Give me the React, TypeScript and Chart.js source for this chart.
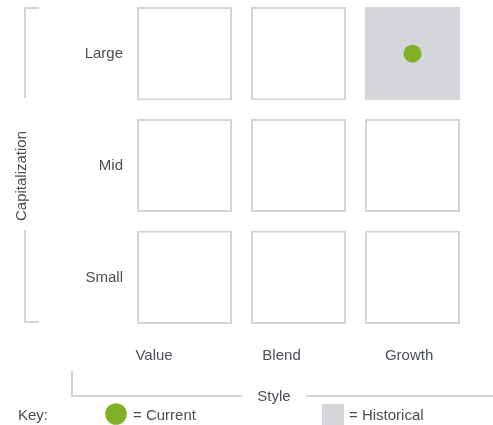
import React, { useEffect, useRef } from 'react';
import { Chart, registerables } from 'chart.js';

Chart.register(...registerables);

// ---- data ----
const styleLabels = ['Value', 'Blend', 'Growth'];
const capLabels = ['Small', 'Mid', 'Large'];
// historical exposure per capitalization row, across Value / Blend / Growth
const historicalSmall = [0, 0, 0];
const historicalMid = [0, 0, 0];
const historicalLarge = [0, 0, 1];
const currentStyle = 'Growth';
const currentCap = 'Large';
const axisTitles = { y: 'Capitalization', x: 'Style' };
const keyLabels = { key: 'Key:', current: '= Current', historical: '= Historical' };

// ---- style ----
const FONT = "'Liberation Sans', Arial, sans-serif";
const TEXT = '#4b5057';
const LINE = '#d5d5d5';
const GREY = '#d4d6d9';
const GREEN = '#80b126';
const INSET = 0.0835;

const historicalRows = [historicalSmall, historicalMid, historicalLarge];

const barDatasets = capLabels.map((cap, r) => ({
  type: 'bar' as const,
  label: cap,
  data: styleLabels.map((_, i) => ({ x: i + 0.5, y: [r + INSET, r + 1 - INSET] })),
  backgroundColor: historicalRows[r].map((h) => (h ? GREY : '#ffffff')),
  borderColor: historicalRows[r].map((h) => (h ? GREY : LINE)),
  borderWidth: 2,
  borderSkipped: false,
  barPercentage: 1 - 2 * INSET,
  categoryPercentage: 1,
  grouped: false,
  xAxisID: 'x',
  yAxisID: 'y',
  order: 2,
}));

const dotDataset = {
  type: 'scatter' as const,
  label: 'Current',
  data: [{ x: styleLabels.indexOf(currentStyle) + 0.5, y: capLabels.indexOf(currentCap) + 0.5 }],
  backgroundColor: GREEN,
  borderWidth: 0,
  pointRadius: 9,
  pointHoverRadius: 9,
  xAxisID: 'x',
  yAxisID: 'y',
  order: 1,
};

const zeroPad = (s: any) => {
  s.paddingTop = 0;
  s.paddingBottom = 0;
  s.paddingLeft = 0;
  s.paddingRight = 0;
};

const extrasPlugin = {
  id: 'styleboxExtras',
  afterDraw(chart: any) {
    const { ctx, scales } = chart;
    const y = scales.y;
    const top = y.getPixelForValue(capLabels.length - INSET);
    const bottom = y.getPixelForValue(INSET) - 2;
    ctx.save();
    ctx.strokeStyle = LINE;
    ctx.lineWidth = 2;
    // left bracket
    ctx.beginPath();
    ctx.moveTo(39, top + 1);
    ctx.lineTo(25, top + 1);
    ctx.lineTo(25, 98);
    ctx.moveTo(25, 230);
    ctx.lineTo(25, bottom);
    ctx.lineTo(39, bottom);
    ctx.stroke();
    // bottom bracket
    ctx.beginPath();
    ctx.moveTo(72, 371);
    ctx.lineTo(72, 396);
    ctx.lineTo(242, 396);
    ctx.moveTo(306, 396);
    ctx.lineTo(493, 396);
    ctx.stroke();

    ctx.fillStyle = TEXT;
    ctx.font = `15px ${FONT}`;
    ctx.textBaseline = 'middle';
    // style title
    ctx.textAlign = 'center';
    ctx.fillText(axisTitles.x, 274, 397);
    // capitalization title
    ctx.save();
    ctx.translate(22, 176);
    ctx.rotate(-Math.PI / 2);
    ctx.fillText(axisTitles.y, 0, 0);
    ctx.restore();

    // key
    ctx.textAlign = 'left';
    ctx.fillText(keyLabels.key, 18, 416);
    ctx.fillStyle = GREEN;
    ctx.beginPath();
    ctx.arc(116, 414, 10.8, 0, Math.PI * 2);
    ctx.fill();
    ctx.fillStyle = TEXT;
    ctx.fillText(keyLabels.current, 133, 416);
    ctx.fillStyle = GREY;
    ctx.fillRect(322, 404, 22, 22);
    ctx.fillStyle = TEXT;
    ctx.fillText(keyLabels.historical, 349, 416);
    ctx.restore();
  },
};

export default function App() {
  const ref = useRef<HTMLCanvasElement>(null);
  useEffect(() => {
    if (!ref.current) return;
    const chart = new Chart(ref.current, {
      type: 'bar',
      data: { datasets: [...barDatasets, dotDataset] as any },
      options: {
        responsive: false,
        animation: false,
        events: [],
        layout: { autoPadding: false, padding: { left: 0, right: 23.5, top: 0, bottom: 0 } },
        plugins: { legend: { display: false }, tooltip: { enabled: false } },
        font: { family: FONT },
        scales: {
          x: {
            type: 'linear',
            min: 0,
            max: styleLabels.length,
            offset: false,
            display: false,
            grid: { offset: false },
            afterBuildTicks: (s: any) => {
              s.ticks = [0, 1, 2, 3].map((v) => ({ value: v }));
            },
            afterFit: zeroPad,
          },
          xl: {
            type: 'linear',
            position: 'bottom',
            min: 0.292,
            max: 2.974,
            offset: false,
            grid: { display: false, drawTicks: false, offset: false },
            border: { display: false },
            afterBuildTicks: (s: any) => {
              s.ticks = styleLabels.map((_, i) => ({ value: i + 0.5 }));
            },
            afterFit: (s: any) => {
              s.height = 91.7;
              zeroPad(s);
            },
            ticks: {
              autoSkip: false,
              maxRotation: 0,
              padding: 14,
              color: TEXT,
              font: { family: FONT, size: 15 },
              callback: (v: any) => styleLabels[Math.floor(Number(v))] ?? '',
            },
          },
          y: {
            type: 'linear',
            min: 0,
            max: 2.98,
            grid: { display: false, drawTicks: false },
            border: { display: false },
            afterBuildTicks: (s: any) => {
              s.ticks = capLabels.map((_, i) => ({ value: i + 0.5 }));
            },
            afterFit: (s: any) => {
              s.width = 127.5;
              zeroPad(s);
            },
            ticks: {
              autoSkip: false,
              padding: 4.5,
              color: TEXT,
              font: { family: FONT, size: 15, lineHeight: 0.01 },
              callback: (v: any) => capLabels[Math.floor(Number(v))] ?? '',
            },
          },
        },
      } as any,
      plugins: [extrasPlugin],
    });
    return () => chart.destroy();
  }, []);
  return (
    <div style={{ position: 'absolute', left: 0, top: 0, width: 493, height: 425 }}>
      <canvas ref={ref} width={493} height={425} style={{ display: 'block' }} />
    </div>
  );
}
